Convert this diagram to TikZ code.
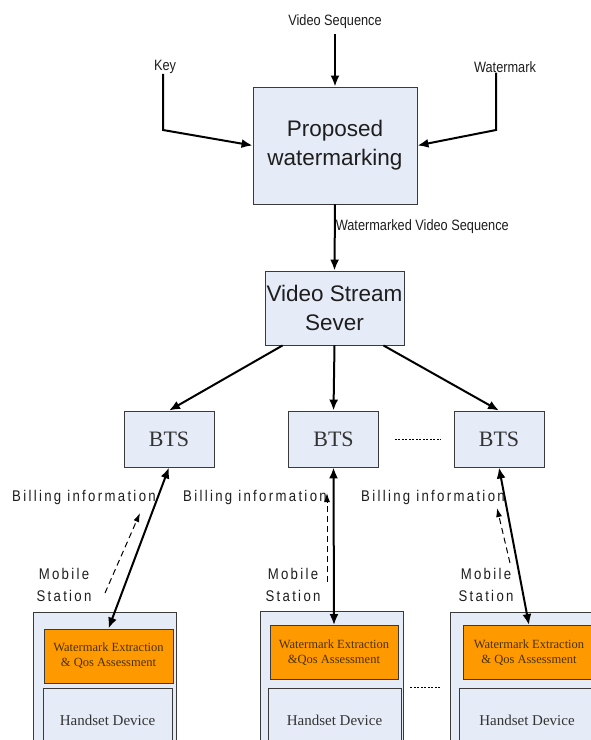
\documentclass[tikz,border=0pt]{standalone}
\usepackage{fontspec}
\setmainfont{Liberation Sans}
\newfontfamily\tms{Liberation Serif}
\newfontfamily\narrow[FakeStretch=0.85]{Liberation Sans}
\newfontfamily\spaced[FakeStretch=0.85,LetterSpace=15]{Liberation Sans}
\usetikzlibrary{arrows.meta}
\definecolor{boxbg}{HTML}{E6ECF7}
\definecolor{edge}{HTML}{3A3A3A}
\definecolor{amber}{HTML}{FF9900}
\definecolor{ink}{HTML}{1E1E1E}
\definecolor{serifink}{HTML}{333333}
\definecolor{brownink}{HTML}{4A3200}
\tikzset{
  blk/.style={draw=edge, fill=boxbg, line width=0.9pt, align=center, inner sep=0pt},
  big/.style={blk, text=ink, font=\fontsize{22.5}{29}\selectfont},
  bts/.style={blk, minimum width=90pt, minimum height=56pt, text=serifink, font=\tms\fontsize{22}{24}\selectfont},
  ms/.style={blk, minimum width=143pt, minimum height=140pt},
  wmx/.style={draw=edge, fill=amber, line width=0.9pt, align=center, inner sep=0pt, minimum height=54pt,
    text=brownink, font=\tms\fontsize{12.5}{15}\selectfont},
  hset/.style={blk, minimum height=64pt, text=serifink, font=\tms\fontsize{15}{17}\selectfont},
  lab/.style={text=ink, font=\narrow\fontsize{15}{17}\selectfont, inner sep=0pt},
  labs/.style={text=ink, font=\spaced\fontsize{15.5}{22}\selectfont, inner sep=0pt, align=center},
  arr/.style={draw=black, line width=2pt, -{Latex[length=11pt,width=9pt]}},
  arr2/.style={draw=black, line width=2pt, {Latex[length=11pt,width=9pt]}-{Latex[length=11pt,width=9pt]}},
  dsh/.style={draw=black, line width=1pt, dash pattern=on 6pt off 4pt, -{Latex[length=9pt,width=6pt]}},
  dotline/.style={draw=black, line width=0.8pt, dash pattern=on 2pt off 1.5pt},
}
\begin{document}
\begin{tikzpicture}[x=1pt, y=-1pt]
  \useasboundingbox[fill=white] (0,0) rectangle (591,740);
  \clip (0,0) rectangle (591,740);

  % top: embedding
  \node[big, minimum width=164pt, minimum height=117pt] (prop) at (335,145.5) {Proposed\\watermarking};
  \node[lab] (vseq) at (335,22) {Video Sequence};
  \node[lab] (key) at (165,67) {Key};
  \node[lab] (wmark) at (505,67) {Watermark};
  \coordinate (kc) at (163,130);
  \coordinate (wc) at (496,130);
  \draw[arr] (vseq.south) ++(0,5) -- (prop.north);
  \draw[arr] (key.south -| kc) -- (kc) -- (prop.west);
  \draw[arr] (wmark.south -| wc) -- (wc) -- (prop.east);

  % server and base stations
  \node[big, minimum width=139pt, minimum height=74pt] (srv) at (334.5,308) {Video Stream\\Sever};
  \draw[arr] (prop.south) -- (srv.north) node[lab, anchor=west, pos=0.33] (wvs) {Watermarked Video Sequence};

  \node[bts] (bts1) at (169,439) {BTS};
  \node[bts] (bts2) at (333.5,439) {BTS};
  \node[bts] (bts3) at (499,439) {BTS};
  \draw[arr] ([xshift=18pt]srv.south west) -- (bts1.north);
  \draw[arr] (srv.south) -- (bts2.north);
  \draw[arr] ([xshift=-21pt]srv.south east) -- (bts3.north);
  \draw[dotline, shorten <=16pt, shorten >=13pt] (bts2.east) -- (bts3.west);

  % mobile stations
  \node[ms] (ms1) at (104.5,682) {};
  \node[ms] (ms2) at (331.5,681) {};
  \node[ms, minimum width=150pt] (ms3) at (525,682) {};
  \node[wmx, minimum width=129pt] (wx1) at (108.5,656) {Watermark Extraction\\\& Qos Assessment};
  \node[wmx, minimum width=128pt] (wx2) at (334,652.5) {Watermark Extraction\\\&Qos Assessment};
  \node[wmx, minimum width=132pt] (wx3) at (529,652.5) {Watermark Extraction\\\& Qos Assessment};
  \node[hset, minimum width=129pt] (hs1) at (107.5,720) {Handset Device};
  \node[hset, minimum width=133pt] (hs2) at (334.5,720) {Handset Device};
  \node[hset, minimum width=136pt] (hs3) at (527,720) {Handset Device};
  \draw[dotline, shorten <=7pt, shorten >=8pt] (ms2.east |- hs2.north) -- (ms3.west |- hs2.north);

  \draw[arr2] (bts1.south) -- (wx1.north);
  \draw[arr2] (bts2.south) -- (wx2.north);
  \draw[arr2] (bts3.south) -- (wx3.north);

  \node[labs] (bill1) at (84,497) {Billing information};
  \node[labs] (bill2) at (255,497) {Billing information};
  \node[labs] (bill3) at (433,497) {Billing information};
  \node[labs] (mob1) at (64,585) {Mobile\\Station};
  \node[labs] (mob2) at (293,585) {Mobile\\Station};
  \node[labs] (mob3) at (486,585) {Mobile\\Station};

  \coordinate (d1a) at (105,593); \coordinate (d1b) at (140,513);
  \coordinate (d2a) at (327,582); \coordinate (d2b) at (327,493);
  \coordinate (d3a) at (510,563); \coordinate (d3b) at (497,508);
  \draw[dsh] (d1a) -- (d1b);
  \draw[dsh] (d2a) -- (d2b);
  \draw[dsh] (d3a) -- (d3b);
\end{tikzpicture}
\end{document}
